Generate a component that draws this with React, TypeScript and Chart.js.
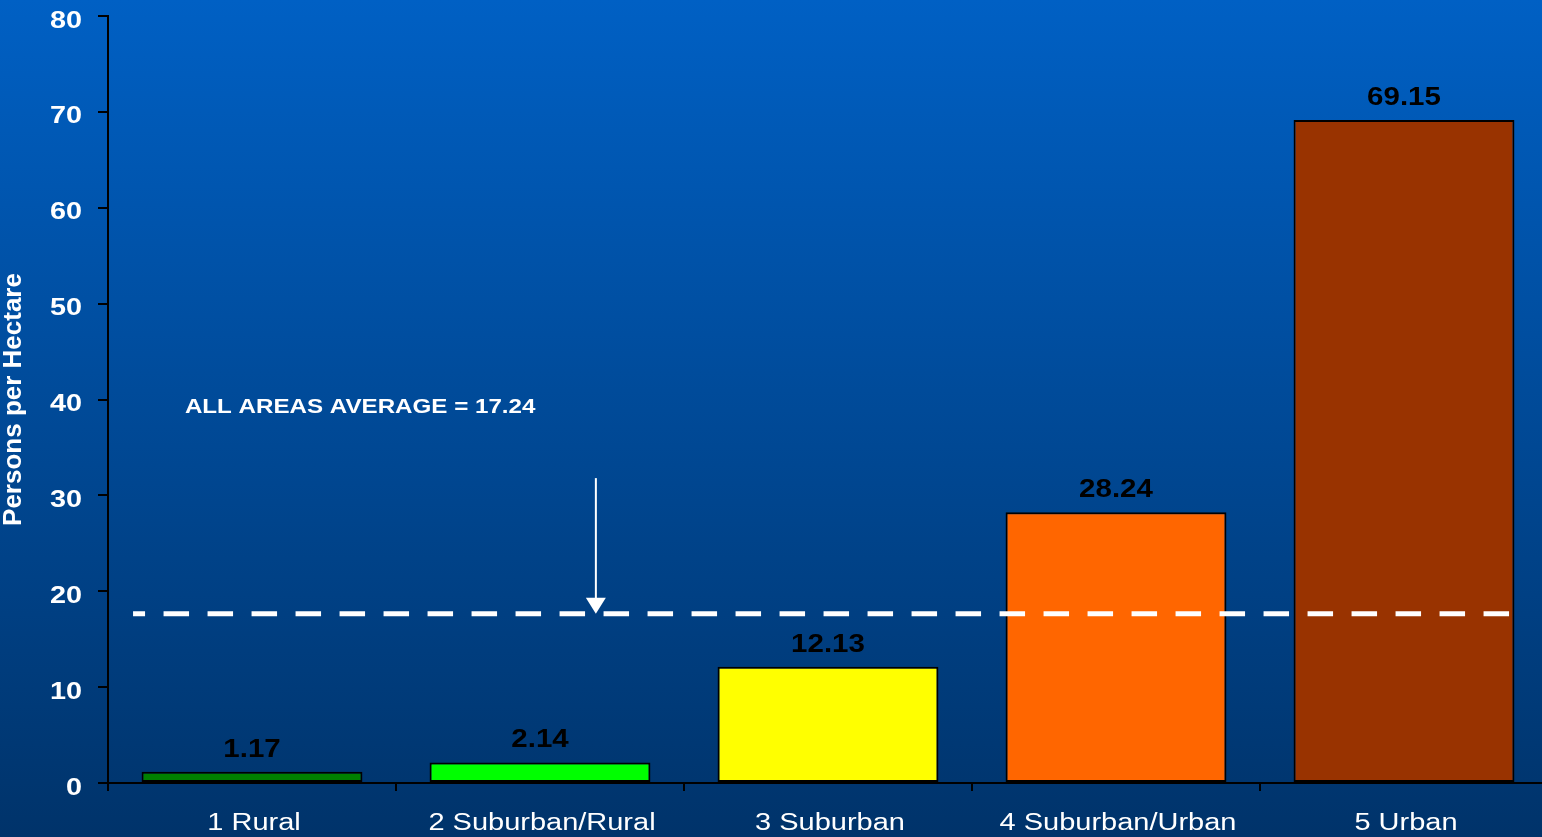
import React, { useEffect, useRef } from "react";
import { Chart, registerables } from "chart.js";

Chart.register(...registerables);

// ---- data ----
const categories = ["1 Rural", "2 Suburban/Rural", "3 Suburban", "4 Suburban/Urban", "5 Urban"];
const density = [1.17, 2.14, 12.13, 28.24, 69.15];
const valueLabels = ["1.17", "2.14", "12.13", "28.24", "69.15"];
const barColors = ["#008000", "#00ff00", "#ffff00", "#ff6600", "#993300"];
const yTicks = [0, 10, 20, 30, 40, 50, 60, 70, 80];
const yAxisTitle = "Persons per Hectare";
const averageText = "ALL AREAS AVERAGE = 17.24";
const averageLineLevel = 17.65;

// ---- annotation placement (in scale units) ----
const avgLineStart = -0.413;
const avgLineEnd = 4.383;
const arrowX = 1.194;
const arrowTop = 31.8;
const annoX = -0.233;
const annoY = 38.55;

const FONT = "'Liberation Sans', Arial, Helvetica, sans-serif";

function stretchedText(
  ctx: CanvasRenderingContext2D,
  text: string,
  x: number,
  y: number,
  font: string,
  color: string,
  align: "left" | "center" | "right",
  sx: number
) {
  ctx.save();
  ctx.font = font;
  ctx.fillStyle = color;
  ctx.textBaseline = "alphabetic";
  ctx.textAlign = "left";
  const w = ctx.measureText(text).width * sx;
  const left = align === "center" ? x - w / 2 : align === "right" ? x - w : x;
  ctx.translate(left, y);
  ctx.scale(sx, 1);
  ctx.fillText(text, 0, 0);
  ctx.restore();
}

export default function App() {
  const ref = useRef<HTMLCanvasElement>(null);

  useEffect(() => {
    const canvas = ref.current;
    if (!canvas) return;

    const overlay = {
      id: "overlay",
      beforeDraw(chart: any) {
        const { ctx, width, height } = chart;
        const g = ctx.createLinearGradient(0, 0, 0, height);
        g.addColorStop(0, "#0060c4");
        g.addColorStop(1, "#00336a");
        ctx.save();
        ctx.fillStyle = g;
        ctx.fillRect(0, 0, width, height);
        ctx.restore();
      },
      afterDatasetsDraw(chart: any) {
        const { ctx, chartArea } = chart;
        const xs = chart.scales.x;
        const ys = chart.scales.y;

        // dashed average line
        const ly = ys.getPixelForValue(averageLineLevel);
        ctx.save();
        ctx.strokeStyle = "#ffffff";
        ctx.lineWidth = 5;
        ctx.setLineDash([25.5, 18.5]);
        ctx.lineDashOffset = 13.5;
        ctx.beginPath();
        ctx.moveTo(xs.getPixelForValue(avgLineStart), ly);
        ctx.lineTo(xs.getPixelForValue(avgLineEnd), ly);
        ctx.stroke();
        ctx.restore();

        // arrow
        const ax = xs.getPixelForValue(arrowX);
        const aTop = ys.getPixelForValue(arrowTop);
        ctx.save();
        ctx.strokeStyle = "#ffffff";
        ctx.fillStyle = "#ffffff";
        ctx.lineWidth = 2;
        ctx.beginPath();
        ctx.moveTo(ax, aTop);
        ctx.lineTo(ax, ly - 14);
        ctx.stroke();
        ctx.beginPath();
        ctx.moveTo(ax - 10, ly - 16);
        ctx.lineTo(ax + 10, ly - 16);
        ctx.lineTo(ax, ly);
        ctx.closePath();
        ctx.fill();
        ctx.restore();

        // annotation text
        stretchedText(
          ctx,
          averageText,
          xs.getPixelForValue(annoX),
          ys.getPixelForValue(annoY),
          `bold 21px ${FONT}`,
          "#ffffff",
          "left",
          1.15
        );

        // value labels
        const meta = chart.getDatasetMeta(0);
        meta.data.forEach((bar: any, i: number) => {
          stretchedText(ctx, valueLabels[i], bar.x, bar.y - 15, `bold 25px ${FONT}`, "#000000", "center", 1.18);
        });

        // x labels
        categories.forEach((c, i) => {
          stretchedText(ctx, c, xs.getPixelForValue(i) + 2, chartArea.bottom + 47, `23px ${FONT}`, "#ffffff", "center", 1.26);
        });

        // y labels
        yTicks.forEach((v) => {
          stretchedText(ctx, String(v), chartArea.left - 26, ys.getPixelForValue(v) + 11.5, `bold 24px ${FONT}`, "#ffffff", "right", 1.2);
        });

        // y axis title
        ctx.save();
        ctx.translate(20.5, (chartArea.top + chartArea.bottom) / 2);
        ctx.rotate(-Math.PI / 2);
        ctx.scale(1.04, 1);
        ctx.font = `bold 25px ${FONT}`;
        ctx.fillStyle = "#ffffff";
        ctx.textAlign = "center";
        ctx.textBaseline = "alphabetic";
        ctx.fillText(yAxisTitle, 0, 0);
        ctx.restore();
      },
    };

    const chart = new Chart(canvas, {
      type: "bar",
      data: {
        labels: categories,
        datasets: [
          {
            data: density,
            backgroundColor: barColors,
            borderColor: "#000000",
            borderWidth: 2,
            borderSkipped: false,
            categoryPercentage: 1,
            barPercentage: 0.767,
          },
        ],
      },
      options: {
        responsive: false,
        animation: false,
        layout: { padding: { top: 16, left: 0, right: 0, bottom: 0 } },
        plugins: {
          legend: { display: false },
          tooltip: { enabled: false },
          title: { display: false },
        },
        scales: {
          x: {
            offset: true,
            grid: {
              display: true,
              offset: true,
              drawOnChartArea: false,
              drawTicks: true,
              tickLength: 8,
              color: "#000000",
              lineWidth: 2,
            },
            border: { display: true, color: "#000000", width: 2 },
            ticks: { color: "rgba(0,0,0,0)", font: { size: 10 } },
            afterFit: (s: any) => {
              s.height = 54;
            },
          },
          y: {
            min: 0,
            max: 80,
            grid: {
              display: true,
              drawOnChartArea: false,
              drawTicks: true,
              tickLength: 10,
              color: "#000000",
              lineWidth: 2,
            },
            border: { display: true, color: "#000000", width: 2 },
            ticks: { stepSize: 10, color: "rgba(0,0,0,0)", font: { size: 10 } },
            afterFit: (s: any) => {
              s.width = 108;
            },
          },
        },
      },
      plugins: [overlay],
    });

    return () => chart.destroy();
  }, []);

  return (
    <div
      style={{
        position: "fixed",
        left: 0,
        top: 0,
        width: "100vw",
        height: "100vh",
        overflow: "hidden",
      }}
    >
      <canvas ref={ref} width={1548} height={837} style={{ display: "block", width: 1548, height: 837 }} />
    </div>
  );
}
